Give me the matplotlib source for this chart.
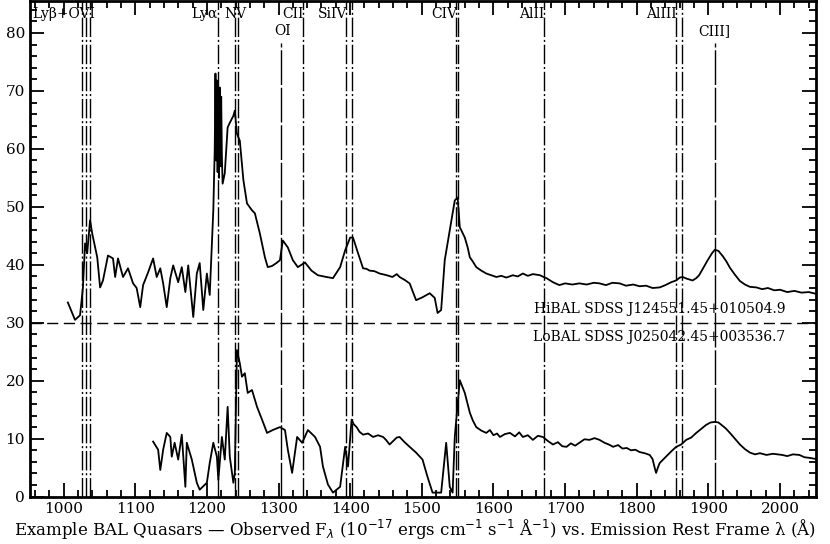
import matplotlib
matplotlib.use("Agg")
import matplotlib.pyplot as plt
from matplotlib.ticker import MultipleLocator

plt.rcParams['font.family'] = ['DejaVu Serif']

# HiBAL spectrum (upper)
hi_wave = [1006, 1016, 1023, 1027, 1030, 1033, 1037, 1040, 1047, 1051, 1055, 1062, 1069, 1072,
           1076, 1083, 1090, 1097, 1102, 1107, 1111, 1118, 1125, 1130, 1135, 1139, 1144, 1149,
           1153, 1160, 1165, 1170, 1174, 1181, 1186, 1190, 1195, 1200, 1204, 1207, 1209, 1211,
           1212, 1213, 1214, 1215, 1216, 1217, 1218, 1219, 1220, 1221, 1222, 1225, 1229, 1232,
           1237, 1239, 1242, 1246, 1251, 1256, 1263, 1267, 1274, 1281, 1285, 1291, 1297, 1302,
           1306, 1313, 1320, 1327, 1337, 1346, 1355, 1367, 1376, 1386, 1393, 1400, 1404, 1411,
           1418, 1423, 1427, 1434, 1441, 1448, 1454, 1459, 1465, 1469, 1476, 1483, 1492, 1501,
           1511, 1518, 1522, 1527, 1532, 1542, 1546, 1550, 1553,
           1560, 1564, 1567, 1571, 1576, 1583, 1590, 1597, 1604, 1611, 1618, 1627, 1634, 1641,
           1648, 1655, 1665, 1670, 1674, 1683, 1692, 1700, 1710, 1720, 1730, 1740, 1748, 1757,
           1766, 1776, 1785, 1795, 1804, 1813, 1822, 1832, 1840, 1848, 1855, 1860, 1864, 1870,
           1878, 1883, 1887, 1893, 1899, 1905, 1909, 1914, 1920, 1925, 1930, 1937, 1944, 1951,
           1958, 1967, 1975, 1983, 1992, 2000, 2010, 2020, 2030, 2040, 2050]
hi_flux = [33.5, 30.5, 31.3, 36.0, 43.7, 42.0, 47.7, 45.4, 41.3, 36.1, 37.3, 41.6, 41.1, 37.9,
           41.1, 37.9, 39.4, 36.8, 36.0, 32.7, 36.5, 38.7, 41.1, 37.9, 39.4, 36.8, 32.7, 37.7,
           39.9, 37.0, 39.6, 35.3, 39.9, 31.0, 38.5, 40.3, 32.2, 38.5, 34.8, 43.7, 49.4, 60.0,
           73.0, 58.0, 71.8, 56.0, 70.0, 55.0, 70.6, 57.0, 69.0, 58.5, 54.0, 55.8, 63.7, 64.5,
           65.7, 66.6, 62.6, 61.4, 54.6, 50.6, 49.4, 48.9, 45.4, 41.3, 39.6, 39.8, 40.3, 40.8,
           44.2, 43.0, 40.8, 39.6, 40.4, 39.0, 38.2, 37.9, 37.7, 39.6, 42.5, 44.7, 44.7, 42.0,
           39.4, 39.3, 39.0, 38.9, 38.5, 38.3, 38.1, 37.9, 38.4, 37.9, 37.4, 36.8, 33.9, 34.4,
           35.1, 34.3, 31.7, 32.2, 40.8, 48.2, 51.1, 51.6, 46.5,
           44.7, 43.0, 41.3, 40.6, 39.6, 39.0, 38.5, 38.2, 37.9, 38.1, 37.8, 38.2, 38.0, 38.5,
           38.1, 38.4, 38.2, 37.9, 37.7, 37.0, 36.5, 36.8, 36.6, 36.8, 36.6, 36.9, 36.8, 36.5,
           36.9, 36.8, 36.4, 36.6, 36.3, 36.4, 36.0, 36.1, 36.5, 37.0, 37.3, 37.8, 37.9, 37.6,
           37.3, 37.7, 38.2, 39.5, 40.8, 42.0, 42.6, 42.4, 41.5, 40.6, 39.5, 38.3, 37.2, 36.6,
           36.2, 36.1, 35.8, 36.0, 35.6, 35.7, 35.3, 35.5, 35.2, 35.3, 35.0]

# LoBAL spectrum (lower)
lo_wave = [1125, 1132, 1135, 1139, 1144, 1149, 1151, 1155, 1160, 1165, 1170, 1172, 1179, 1186,
           1190, 1200, 1204, 1209, 1214, 1216, 1221, 1225, 1229, 1232, 1237, 1239, 1242, 1246,
           1249, 1253, 1257, 1263, 1270, 1277, 1284, 1292, 1302, 1309, 1313, 1319, 1326, 1333,
           1341, 1351, 1358, 1362, 1369, 1376, 1386, 1393, 1397, 1402, 1405, 1409, 1413, 1418,
           1425, 1432, 1439, 1446, 1450, 1455, 1460, 1465, 1469, 1476, 1483, 1492, 1501, 1508,
           1515, 1527, 1534, 1539, 1543, 1546, 1553,
           1560, 1564, 1567, 1571, 1576, 1583, 1590, 1595, 1600, 1605, 1609, 1616, 1623, 1630,
           1636, 1641, 1648, 1655, 1662, 1669, 1676, 1683, 1690, 1696, 1702, 1708, 1714, 1720,
           1727, 1734, 1741, 1748, 1755, 1761, 1767, 1774, 1780, 1786, 1792, 1798, 1804, 1811,
           1818, 1822, 1825, 1827, 1830, 1832, 1836, 1841, 1848, 1855, 1862, 1869, 1876, 1883,
           1890, 1897, 1903, 1909, 1914, 1918, 1924, 1930, 1937, 1944, 1951, 1958, 1965, 1972,
           1981, 1990, 2003, 2010, 2018, 2027, 2034, 2041, 2050]
lo_flux = [9.5, 8.1, 4.6, 8.1, 11.0, 10.3, 6.9, 9.3, 6.4, 10.7, 1.7, 9.3, 6.4, 2.4,
           1.2, 2.4, 5.8, 9.3, 6.9, 2.9, 10.3, 6.4, 15.5, 6.9, 2.4, 4.1, 25.3, 23.0,
           20.7, 21.3, 17.9, 18.4, 15.5, 13.3, 11.0, 11.5, 12.0, 11.5, 8.1, 4.1, 10.3, 9.3,
           11.5, 10.3, 8.6, 5.2, 2.1, 0.7, 1.7, 8.6, 5.2, 13.3, 12.5, 12.0, 11.2, 10.7,
           10.9, 10.3, 10.6, 10.3, 9.8, 9.0, 9.6, 10.2, 10.3, 9.4, 8.6, 7.6, 6.4, 3.4,
           0.7, 0.7, 9.3, 1.7, 0.7, 10.3, 20.1,
           17.9, 16.0, 14.5, 13.2, 12.0, 11.4, 11.0, 11.5, 10.6, 10.9, 10.3, 10.8, 11.0, 10.4,
           11.1, 10.3, 10.6, 9.8, 10.5, 10.3, 9.6, 9.0, 9.4, 8.7, 8.6, 9.2, 8.8, 9.3,
           9.9, 9.8, 10.1, 9.8, 9.3, 9.0, 8.6, 8.9, 8.3, 8.4, 8.0, 8.1, 7.7, 7.5,
           7.2, 6.5, 5.0, 4.1, 5.2, 5.8, 6.3, 6.9, 7.8, 8.6, 9.0, 9.8, 10.2, 11.0,
           11.7, 12.4, 12.8, 12.9, 12.8, 12.4, 11.8, 11.0, 10.0, 9.0, 8.2, 7.6, 7.3, 7.5,
           7.2, 7.4, 7.2, 7.0, 7.3, 7.2, 6.8, 6.7, 6.5]

# emission lines
line_waves = [1025.7, 1031.9, 1037.6, 1215.7, 1238.8, 1242.8, 1334.5, 1393.8, 1402.8,
              1548.2, 1550.8, 1670.8, 1854.7, 1862.8]
solid_waves = [1304.0, 1908.7]
top_labels = ['Ly\u03b2+OVI', 'Ly\u03b1', 'NV', 'CII', 'SiIV', 'CIV', 'AlII', 'AlIII']
top_label_x = [956, 1215, 1240, 1335, 1375, 1550, 1671, 1856]
top_label_ha = ['left', 'right', 'center', 'right', 'center', 'right', 'right', 'right']
low_labels = ['OI', 'CIII]']
low_label_x = [1305, 1908]

fig = plt.figure(figsize=(8.3, 5.44), dpi=100)
ax = fig.add_axes([0.036, 0.087, 0.947, 0.911])

ax.plot(hi_wave, hi_flux, color='black', lw=1.3)
ax.plot(lo_wave, lo_flux, color='black', lw=1.3)

for w in line_waves:
    ax.axvline(w, color='black', lw=1.0, linestyle=(0, (14, 2, 1.5, 2)))
for w in solid_waves:
    ax.plot([w, w], [0, 78.3], color='black', lw=1.0, linestyle=(0, (25, 2)))
ax.axhline(30, color='black', lw=1.0, linestyle=(0, (8, 4)))

for lab, x, ha in zip(top_labels, top_label_x, top_label_ha):
    ax.text(x, 83.3, lab, ha=ha, va='center', fontsize=10)
for lab, x in zip(low_labels, low_label_x):
    ax.text(x, 80.3, lab, ha='center', va='center', fontsize=10)

ax.text(2007, 32.4, 'HiBAL SDSS J124551.45+010504.9', ha='right', va='center', fontsize=10)
ax.text(2007, 27.6, 'LoBAL SDSS J025042.45+003536.7', ha='right', va='center', fontsize=10)

ax.set_xlim(953, 2050)
ax.set_ylim(0, 85.5)
ax.xaxis.set_major_locator(MultipleLocator(100))
ax.xaxis.set_minor_locator(MultipleLocator(20))
ax.yaxis.set_major_locator(MultipleLocator(10))
ax.yaxis.set_minor_locator(MultipleLocator(2))
ax.tick_params(which='both', direction='in', top=True, right=True, width=1.3, labelsize=11)
ax.tick_params(which='major', length=10)
ax.tick_params(which='minor', length=5)
for s in ax.spines.values():
    s.set_linewidth(2)

fig.text(0.5, 0.025, 'Example BAL Quasars \u2014 Observed F$_\\lambda$ (10$^{-17}$ ergs cm$^{-1}$ s$^{-1}$ \u00c5$^{-1}$) vs. Emission Rest Frame \u03bb (\u00c5)',
         ha='center', va='center', fontsize=12)

fig.savefig('out.png', dpi=100)
